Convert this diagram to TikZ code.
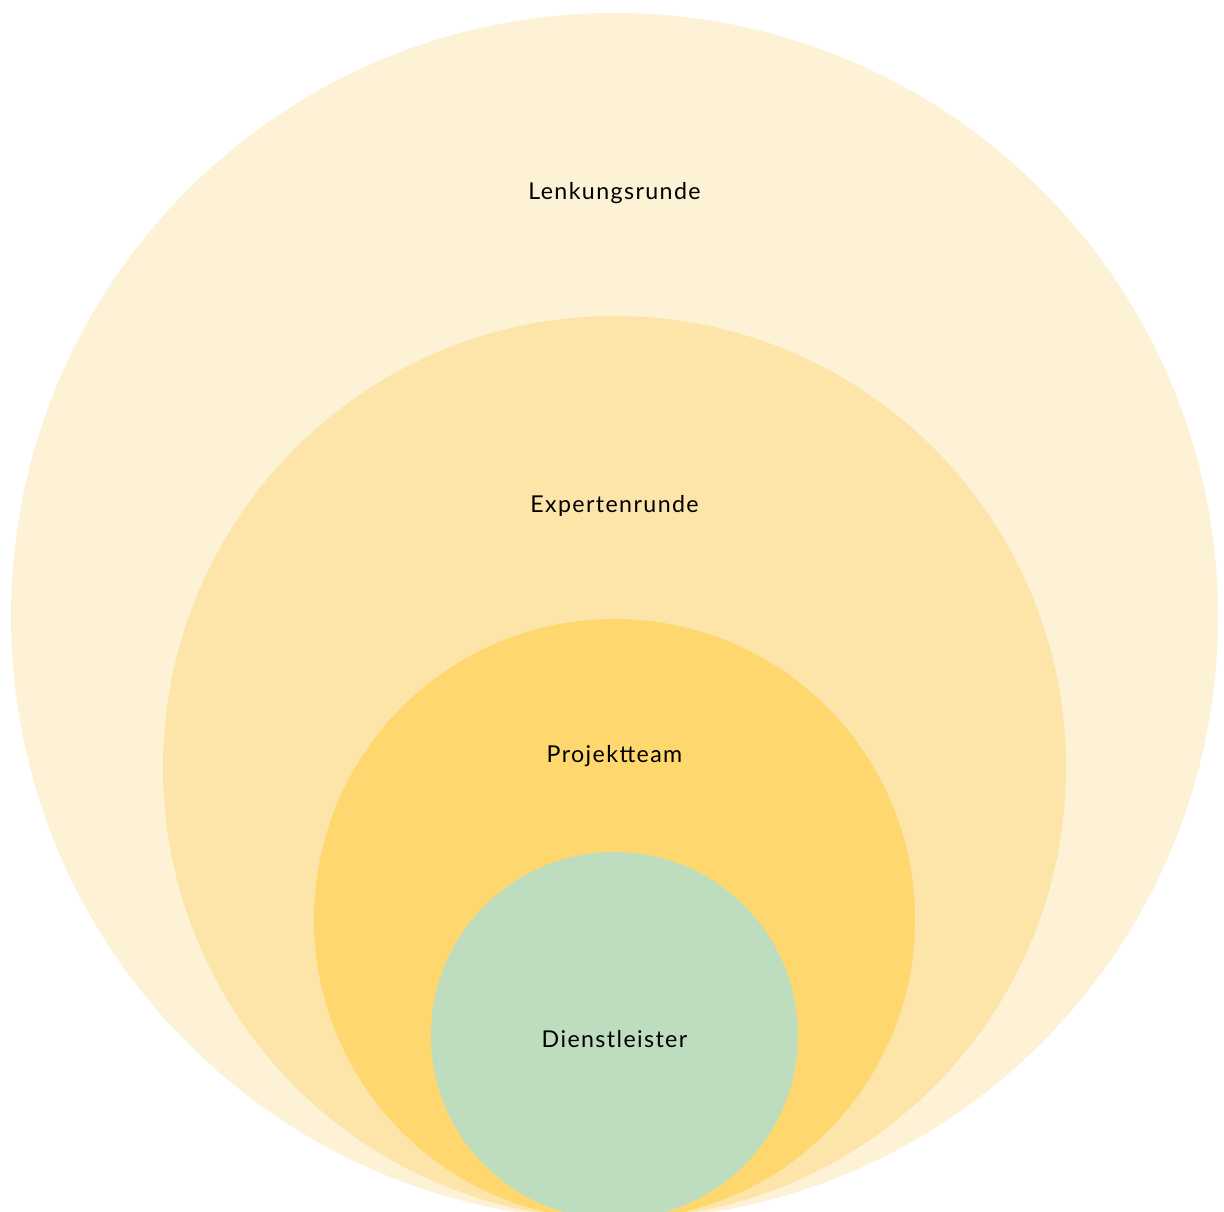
\documentclass[tikz,border=0pt]{standalone}
\usepackage{fontspec}
\setmainfont{Lato}[LetterSpace=6]
\usepackage{tikz}

\definecolor{ringA}{HTML}{FDF1D6}
\definecolor{ringB}{HTML}{FDE4A8}
\definecolor{ringC}{HTML}{FED86E}
\definecolor{ringD}{HTML}{BEDDBF}

\tikzset{
    ringlabel/.style={font=\fontsize{16.5pt}{19pt}\selectfont, text=black, inner sep=0pt}
}

\begin{document}
\begin{tikzpicture}[x=0.025cm,y=-0.025cm]
        \useasboundingbox (0,0) rectangle (1224,1211);
        \begin{scope}
        \clip (0,0) rectangle (1224,1211);
        \fill[ringA] (614.5,616.5) circle (603.5);
        \fill[ringB] (614.5,767.5) circle (451.5);
        \fill[ringC] (614.5,919.5) circle (300.5);
        \fill[ringD] (614.5,1035.5) circle (183.5);
        \end{scope}

        \node[ringlabel] at (614.5,193) (lenkung) {Lenkungsrunde};
        \node[ringlabel] at (614.5,506) (experten) {Expertenrunde};
        \node[ringlabel] at (614.5,756) (projekt) {Projektteam};
        \node[ringlabel] at (614.5,1039) (dienst) {Dienstleister};
    \end{tikzpicture}
\end{document}
